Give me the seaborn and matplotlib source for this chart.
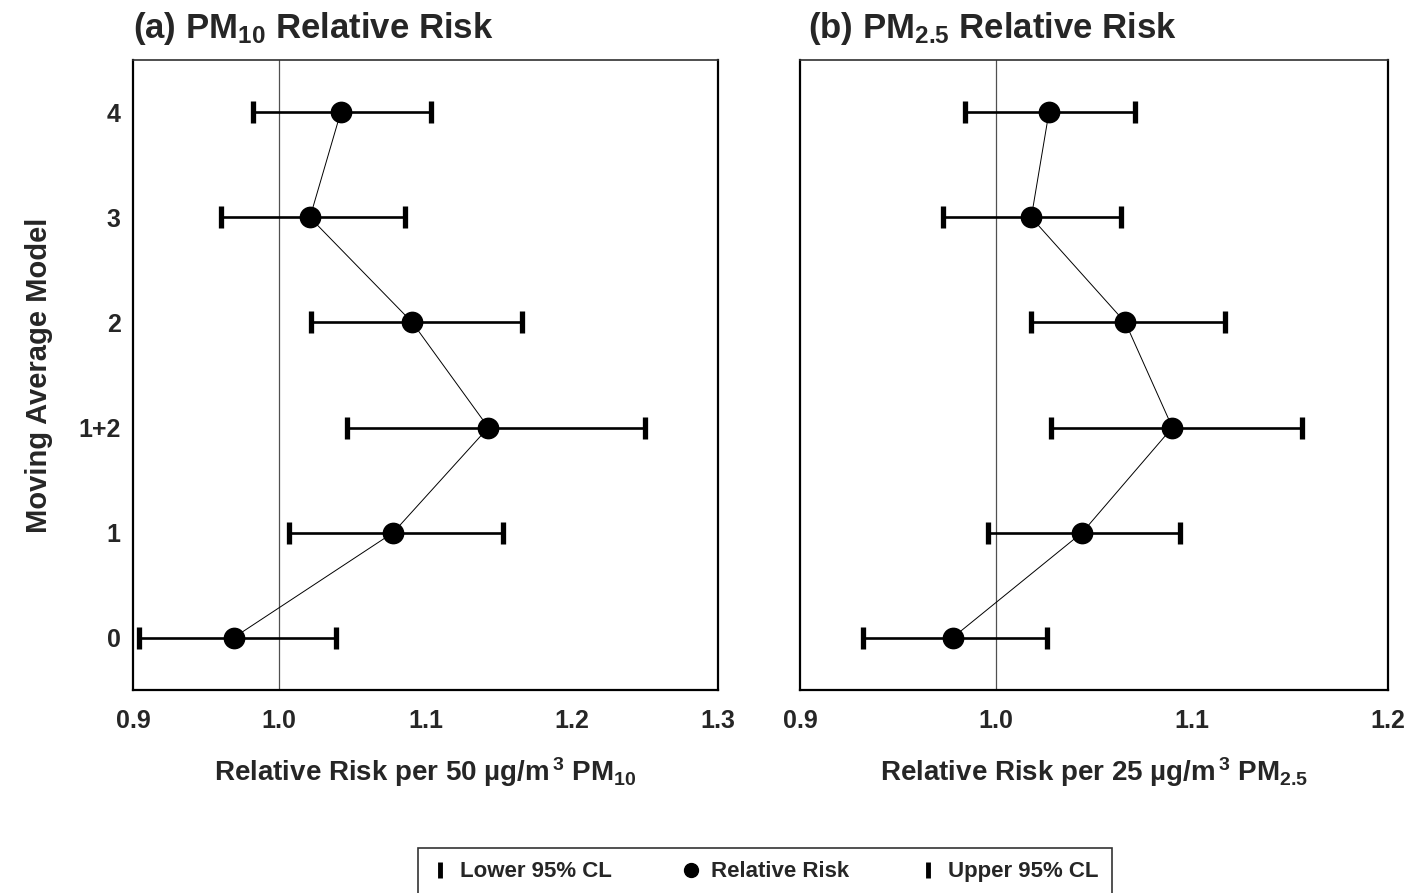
import numpy as np
import pandas as pd
import matplotlib
matplotlib.use("Agg")
import matplotlib.pyplot as plt
from matplotlib.lines import Line2D
import seaborn as sns

# Moving-average model labels (bottom to top)
models = ["0", "1", "1+2", "2", "3", "4"]

# PM10: relative risk per 50 ug/m3 with 95% confidence limits
pm10_rr = [0.969, 1.078, 1.143, 1.091, 1.021, 1.042]
pm10_lower = [0.904, 1.007, 1.046, 1.022, 0.960, 0.982]
pm10_upper = [1.039, 1.153, 1.250, 1.166, 1.086, 1.104]

# PM2.5: relative risk per 25 ug/m3 with 95% confidence limits
pm25_rr = [0.978, 1.044, 1.090, 1.066, 1.018, 1.027]
pm25_lower = [0.932, 0.996, 1.028, 1.018, 0.973, 0.984]
pm25_upper = [1.026, 1.094, 1.156, 1.117, 1.064, 1.071]

pm10_xticks = [0.9, 1.0, 1.1, 1.2, 1.3]
pm25_xticks = [0.9, 1.0, 1.1, 1.2]

sns.set_style("white")
plt.rcParams["font.family"] = ["Liberation Sans", "DejaVu Sans"]
plt.rcParams["font.weight"] = "bold"
plt.rcParams["mathtext.fontset"] = "custom"
plt.rcParams["mathtext.rm"] = "Liberation Sans:bold"
plt.rcParams["mathtext.bf"] = "Liberation Sans:bold"
plt.rcParams["mathtext.it"] = "Liberation Sans:bold"
plt.rcParams["mathtext.default"] = "bf"

fig = plt.figure(figsize=(14.15, 8.93), dpi=100)
ax1 = fig.add_axes([133 / 1415, 1 - 690 / 893, 585 / 1415, 630 / 893])
ax2 = fig.add_axes([800 / 1415, 1 - 690 / 893, 588 / 1415, 630 / 893])


def draw_panel(ax, rr, lower, upper, xticks):
    pos = np.arange(len(models))
    df = pd.DataFrame({"pos": pos, "rr": rr, "lower": lower, "upper": upper})

    ax.axvline(1.0, color="#505050", lw=0.9, zorder=0)
    ax.hlines(df["pos"], df["lower"], df["upper"], color="black", lw=1.9, zorder=2)
    sns.lineplot(data=df, x="rr", y="pos", sort=False, estimator=None,
                 color="black", lw=0.7, ax=ax, zorder=2)
    sns.scatterplot(data=df, x="lower", y="pos", marker="|", s=16 ** 2,
                    linewidth=3.8, color="black", ax=ax, zorder=3)
    sns.scatterplot(data=df, x="upper", y="pos", marker="|", s=16 ** 2,
                    linewidth=3.8, color="black", ax=ax, zorder=3)
    sns.scatterplot(data=df, x="rr", y="pos", marker="o", s=14.5 ** 2,
                    color="black", edgecolor="black", ax=ax, zorder=4)

    ax.set_xlim(xticks[0], xticks[-1])
    ax.set_ylim(-0.5, len(models) - 0.5)
    ax.set_xticks(xticks)
    ax.set_xticklabels([f"{t:.1f}" for t in xticks])
    ax.set_yticks(pos)
    ax.set_yticks(np.arange(-0.5, len(models), 1.0), minor=True)
    ax.tick_params(axis="x", which="major", direction="inout", length=12,
                   width=1.5, color="black", labelsize=18, pad=8)
    ax.tick_params(axis="y", which="major", length=0, labelsize=18, pad=9)
    ax.tick_params(axis="y", which="minor", direction="inout", length=12,
                   width=1.5, color="black")
    ax.set_ylabel("")
    for side in ["left", "bottom", "right"]:
        ax.spines[side].set_color("black")
        ax.spines[side].set_linewidth(1.6)
    ax.spines["top"].set_color("#303030")
    ax.spines["top"].set_linewidth(1.2)


draw_panel(ax1, pm10_rr, pm10_lower, pm10_upper, pm10_xticks)
draw_panel(ax2, pm25_rr, pm25_lower, pm25_upper, pm25_xticks)

ax1.set_yticklabels(models)
ax2.set_yticklabels([])

ax1.set_xlabel("Relative Risk per 50 µg/m$^{\\,3}$ PM$_{10}$", fontsize=20,
               fontweight="bold", labelpad=16)
ax2.set_xlabel("Relative Risk per 25 µg/m$^{\\,3}$ PM$_{2.5}$", fontsize=20,
               fontweight="bold", labelpad=16)
ax1.set_ylabel("Moving Average Model", fontsize=21, fontweight="bold", labelpad=18)

fig.text(133 / 1415, 1 - 38 / 893, "(a) PM$_{10}$ Relative Risk",
         fontsize=25, fontweight="bold", va="baseline", ha="left")
fig.text(808 / 1415, 1 - 38 / 893, "(b) PM$_{2.5}$ Relative Risk",
         fontsize=25, fontweight="bold", va="baseline", ha="left")

handles = [
    Line2D([], [], marker="|", ms=12, mew=3.5, ls="none", color="black"),
    Line2D([], [], marker="o", ms=10, ls="none", color="black"),
    Line2D([], [], marker="|", ms=12, mew=3.5, ls="none", color="black"),
]
labels = ["Lower 95% CL", "Relative Risk", "Upper 95% CL"]
leg = fig.legend(handles, labels, loc="upper center", ncol=3,
                 bbox_to_anchor=(765 / 1415, 1 - 848 / 893),
                 frameon=True, fancybox=False, edgecolor="black",
                 fontsize=16, handlelength=0.8, handletextpad=0.5,
                 columnspacing=3.15, borderpad=0.6, borderaxespad=0)
leg.get_frame().set_linewidth(1.2)

fig.savefig("out.png", dpi=100)
